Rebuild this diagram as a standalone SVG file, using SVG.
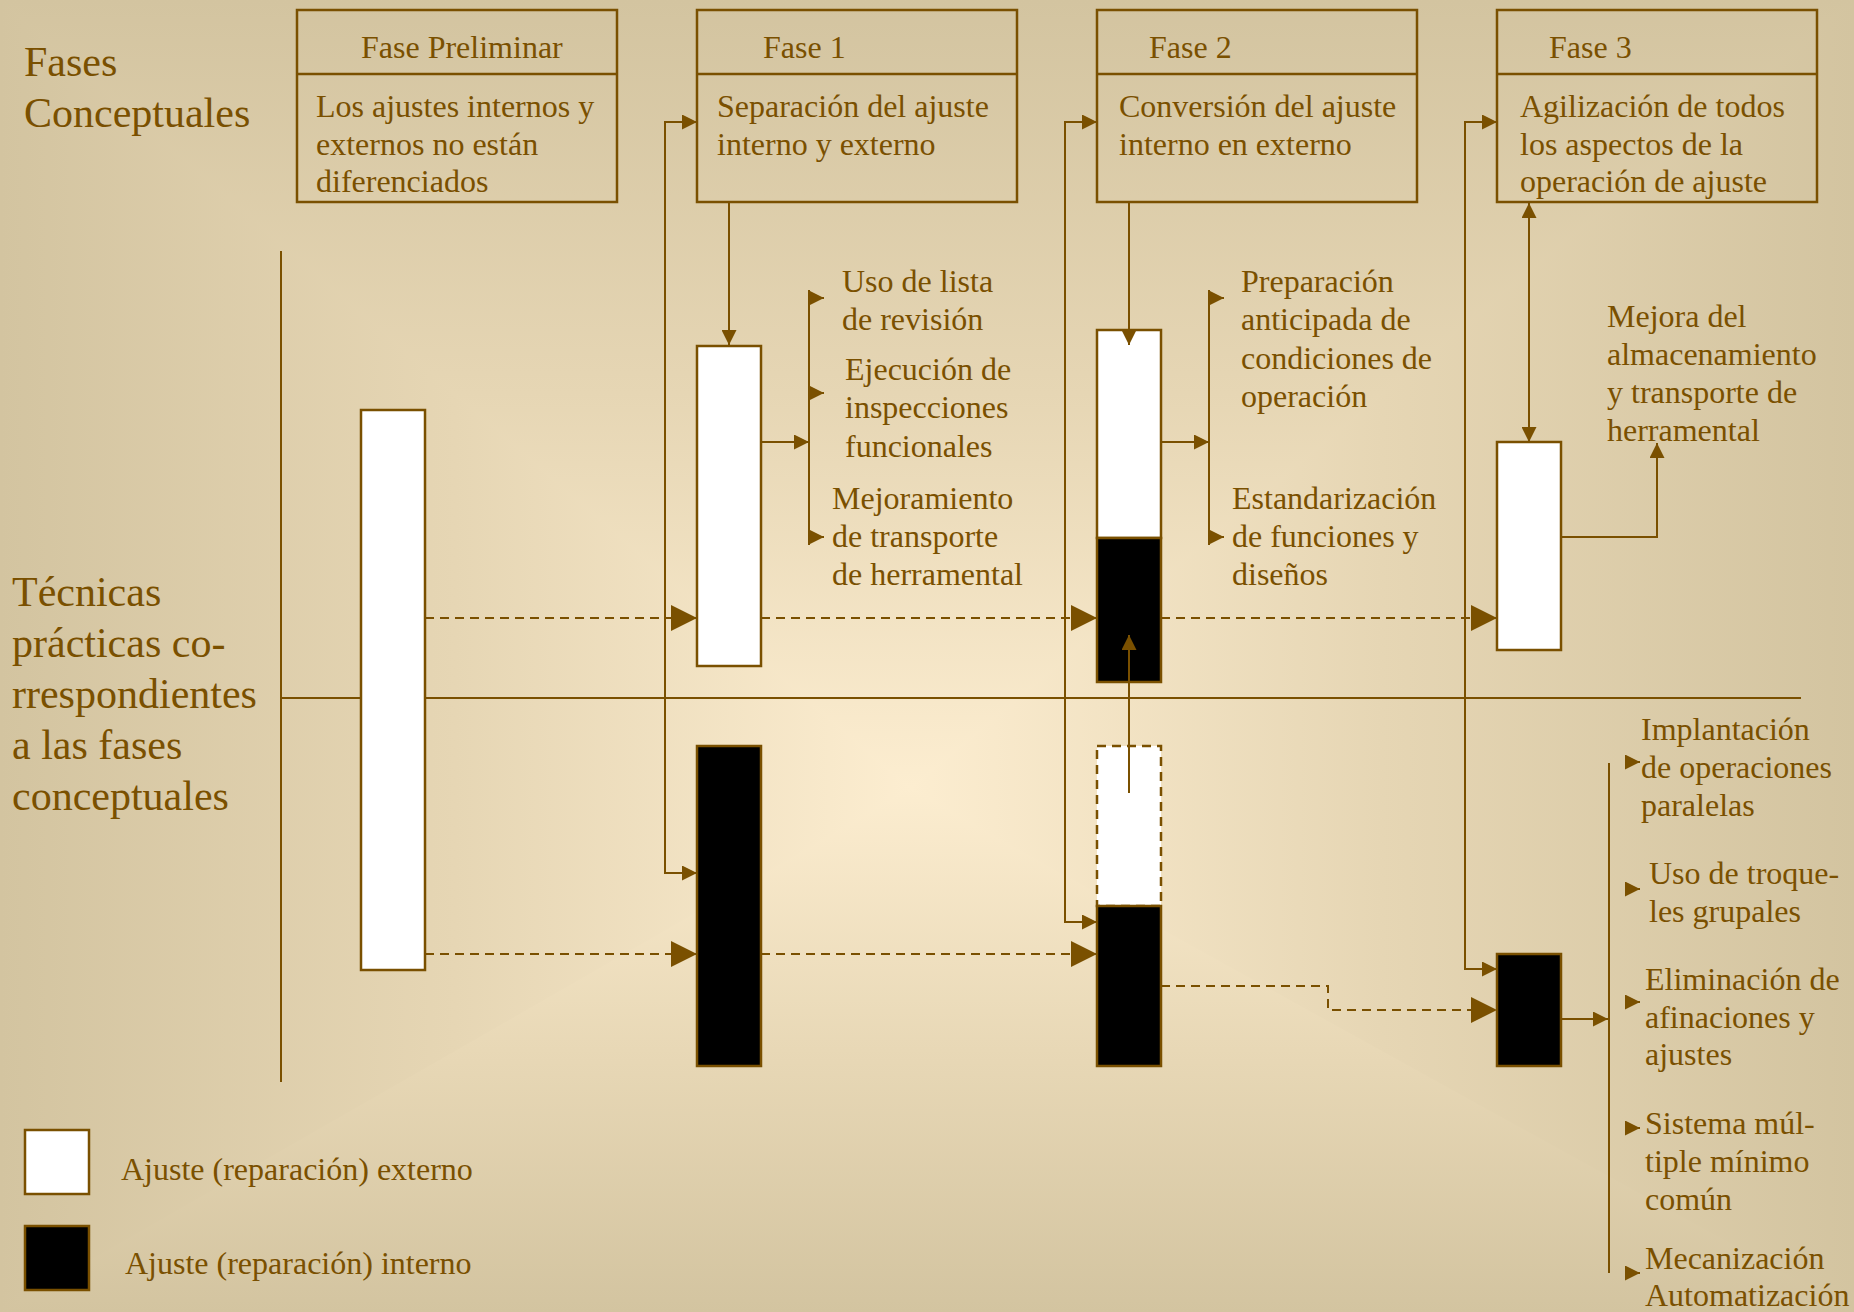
<svg xmlns="http://www.w3.org/2000/svg" width="1854" height="1312" viewBox="0 0 1854 1312">
<defs>
<style>
text{font-family:"Liberation Serif","Times New Roman",serif;fill:#7A5000}
.t32{font-size:32px}
.t42{font-size:42px}
.ln{stroke:#7A5000;stroke-width:2;fill:none}
.dash{stroke-dasharray:9 6}
.box{fill:none;stroke:#7A5000;stroke-width:2.5}
.wbar{fill:#fff;stroke:#7A5000;stroke-width:2.5}
.bbar{fill:#000;stroke:#7A5000;stroke-width:2.5}
.dbar{fill:#fff;stroke:#7A5000;stroke-width:2.5;stroke-dasharray:9 6}
</style>
<marker id="as" viewBox="0 0 15 15" refX="15" refY="7.5" markerWidth="15" markerHeight="15" markerUnits="userSpaceOnUse" orient="auto-start-reverse"><path d="M0 0L15 7.5L0 15z" fill="#7A5000"/></marker>
<marker id="ab" viewBox="0 0 26 26" refX="26" refY="13" markerWidth="26" markerHeight="26" markerUnits="userSpaceOnUse" orient="auto"><path d="M0 0L26 13L0 26z" fill="#7A5000"/></marker>
<linearGradient id="gv" gradientUnits="userSpaceOnUse" x1="0" y1="0" x2="0" y2="1312">
<stop offset="0" stop-color="#D3C4A0"/><stop offset="0.3" stop-color="#E6D6B4"/><stop offset="0.6" stop-color="#FCEDD0"/><stop offset="0.8" stop-color="#E8D8B6"/><stop offset="1" stop-color="#D3C4A0"/>
</linearGradient>
<linearGradient id="gl" gradientUnits="userSpaceOnUse" x1="0" y1="0" x2="910" y2="0">
<stop offset="0" stop-color="#D3C4A0"/><stop offset="0.5" stop-color="#E6D6B4"/><stop offset="1" stop-color="#FCEDD0"/>
</linearGradient>
<linearGradient id="gr" gradientUnits="userSpaceOnUse" x1="1854" y1="0" x2="910" y2="0">
<stop offset="0" stop-color="#D3C4A0"/><stop offset="0.5" stop-color="#E6D6B4"/><stop offset="1" stop-color="#FCEDD0"/>
</linearGradient>
</defs>

<g id="background">
<rect x="0" y="0" width="1854" height="1312" fill="url(#gv)"/>
<polygon points="0,0 910,790 0,1312" fill="url(#gl)"/>
<polygon points="1854,0 910,790 1854,1312" fill="url(#gr)"/>
</g>

<g id="titles">
<text class="t42" x="24" y="76">Fases</text>
<text class="t42" x="24" y="127">Conceptuales</text>
<text class="t42" x="12" y="606">Técnicas</text>
<text class="t42" x="12" y="657">prácticas co-</text>
<text class="t42" x="12" y="708">rrespondientes</text>
<text class="t42" x="12" y="759">a las fases</text>
<text class="t42" x="12" y="810">conceptuales</text>
</g>

<g id="axes">
<line class="ln" x1="281" y1="251" x2="281" y2="1082"/>
<line class="ln" x1="281" y1="698" x2="1801" y2="698"/>
</g>

<g id="fase-preliminar">
<rect class="box" x="297" y="10" width="320" height="192"/>
<line class="box" x1="297" y1="74" x2="617" y2="74"/>
<text class="t32" x="361" y="58">Fase Preliminar</text>
<text class="t32" x="316" y="117">Los ajustes internos y</text>
<text class="t32" x="316" y="155">externos no están</text>
<text class="t32" x="316" y="192">diferenciados</text>
</g>

<g id="fase-1">
<rect class="box" x="697" y="10" width="320" height="192"/>
<line class="box" x1="697" y1="74" x2="1017" y2="74"/>
<text class="t32" x="763" y="58">Fase 1</text>
<text class="t32" x="717" y="117">Separación del ajuste</text>
<text class="t32" x="717" y="155">interno y externo</text>
</g>

<g id="fase-2">
<rect class="box" x="1097" y="10" width="320" height="192"/>
<line class="box" x1="1097" y1="74" x2="1417" y2="74"/>
<text class="t32" x="1149" y="58">Fase 2</text>
<text class="t32" x="1119" y="117">Conversión del ajuste</text>
<text class="t32" x="1119" y="155">interno en externo</text>
</g>

<g id="fase-3">
<rect class="box" x="1497" y="10" width="320" height="192"/>
<line class="box" x1="1497" y1="74" x2="1817" y2="74"/>
<text class="t32" x="1549" y="58">Fase 3</text>
<text class="t32" x="1520" y="117">Agilización de todos</text>
<text class="t32" x="1520" y="155">los aspectos de la</text>
<text class="t32" x="1520" y="192">operación de ajuste</text>
</g>

<g id="bar-preliminar">
<rect class="wbar" x="361" y="410" width="64" height="560"/>
</g>
<g id="bar-fase1-externo">
<rect class="wbar" x="697" y="346" width="64" height="320"/>
</g>
<g id="bar-fase1-interno">
<rect class="bbar" x="697" y="746" width="64" height="320"/>
</g>
<g id="bar-fase2-superior">
<rect class="wbar" x="1097" y="330" width="64" height="208"/>
<rect class="bbar" x="1097" y="538" width="64" height="144"/>
</g>
<g id="bar-fase2-inferior">
<rect class="dbar" x="1097" y="746" width="64" height="160"/>
<rect class="bbar" x="1097" y="906" width="64" height="160"/>
</g>
<g id="bar-fase3-externo">
<rect class="wbar" x="1497" y="442" width="64" height="208"/>
</g>
<g id="bar-fase3-interno">
<rect class="bbar" x="1497" y="954" width="64" height="112"/>
</g>

<g id="tecnicas-fase1">
<text class="t32" x="842" y="292">Uso de lista</text>
<text class="t32" x="842" y="330">de revisión</text>
<text class="t32" x="845" y="380">Ejecución de</text>
<text class="t32" x="845" y="418">inspecciones</text>
<text class="t32" x="845" y="457">funcionales</text>
<text class="t32" x="832" y="509">Mejoramiento</text>
<text class="t32" x="832" y="547">de transporte</text>
<text class="t32" x="832" y="585">de herramental</text>
</g>

<g id="tecnicas-fase2">
<text class="t32" x="1241" y="292">Preparación</text>
<text class="t32" x="1241" y="330">anticipada de</text>
<text class="t32" x="1241" y="369">condiciones de</text>
<text class="t32" x="1241" y="407">operación</text>
<text class="t32" x="1232" y="509">Estandarización</text>
<text class="t32" x="1232" y="547">de funciones y</text>
<text class="t32" x="1232" y="585">diseños</text>
</g>

<g id="tecnicas-fase3-externo">
<text class="t32" x="1607" y="327">Mejora del</text>
<text class="t32" x="1607" y="365">almacenamiento</text>
<text class="t32" x="1607" y="403">y transporte de</text>
<text class="t32" x="1607" y="441">herramental</text>
</g>

<g id="tecnicas-fase3-interno">
<text class="t32" x="1641" y="740">Implantación</text>
<text class="t32" x="1641" y="778">de operaciones</text>
<text class="t32" x="1641" y="816">paralelas</text>
<text class="t32" x="1649" y="884">Uso de troque-</text>
<text class="t32" x="1649" y="922">les grupales</text>
<text class="t32" x="1645" y="990">Eliminación de</text>
<text class="t32" x="1645" y="1028">afinaciones y</text>
<text class="t32" x="1645" y="1065">ajustes</text>
<text class="t32" x="1645" y="1134">Sistema múl-</text>
<text class="t32" x="1645" y="1172">tiple mínimo</text>
<text class="t32" x="1645" y="1210">común</text>
<text class="t32" x="1645" y="1269">Mecanización</text>
<text class="t32" x="1645" y="1306">Automatización</text>
</g>

<g id="leyenda">
<rect class="wbar" x="25" y="1130" width="64" height="64"/>
<rect class="bbar" x="25" y="1226" width="64" height="64"/>
<text class="t32" x="121" y="1180">Ajuste (reparación) externo</text>
<text class="t32" x="125" y="1274">Ajuste (reparación) interno</text>
</g>

<g id="connectors">
<path class="ln" d="M697 122H665V873H697" marker-start="url(#as)" marker-end="url(#as)"/>
<path class="ln" d="M1097 122H1065V922H1097" marker-start="url(#as)" marker-end="url(#as)"/>
<path class="ln" d="M1497 122H1465V969H1497" marker-start="url(#as)" marker-end="url(#as)"/>
<path class="ln" d="M729 202V345" marker-end="url(#as)"/>
<path class="ln" d="M1129 202V345" marker-end="url(#as)"/>
<path class="ln" d="M1529 203V442" marker-start="url(#as)" marker-end="url(#as)"/>
<path class="ln" d="M761 442H809" marker-end="url(#as)"/>
<path class="ln" d="M1161 442H1209" marker-end="url(#as)"/>
<path class="ln" d="M1561 537H1657V443" marker-end="url(#as)"/>
<path class="ln" d="M1129 793V635" marker-end="url(#as)"/>
<path class="ln" d="M1561 1019H1608" marker-end="url(#as)"/>
<path class="ln" d="M809 290V545"/>
<path class="ln" d="M1209 290V545"/>
<path class="ln" d="M1609 763V1273"/>
<path class="ln" d="M809 298H824" marker-end="url(#as)"/>
<path class="ln" d="M809 393H824" marker-end="url(#as)"/>
<path class="ln" d="M809 537H824" marker-end="url(#as)"/>
<path class="ln" d="M1209 298H1224" marker-end="url(#as)"/>
<path class="ln" d="M1209 537H1224" marker-end="url(#as)"/>
<path class="ln" d="M1625 762H1640" marker-end="url(#as)"/>
<path class="ln" d="M1625 889H1640" marker-end="url(#as)"/>
<path class="ln" d="M1625 1002H1640" marker-end="url(#as)"/>
<path class="ln" d="M1625 1128H1640" marker-end="url(#as)"/>
<path class="ln" d="M1625 1273H1640" marker-end="url(#as)"/>
<path class="ln dash" d="M425 618H697" marker-end="url(#ab)"/>
<path class="ln dash" d="M761 618H1097" marker-end="url(#ab)"/>
<path class="ln dash" d="M1161 618H1497" marker-end="url(#ab)"/>
<path class="ln dash" d="M425 954H697" marker-end="url(#ab)"/>
<path class="ln dash" d="M761 954H1097" marker-end="url(#ab)"/>
<path class="ln dash" d="M1161 986H1328V1010H1497" marker-end="url(#ab)"/>
</g>
</svg>
